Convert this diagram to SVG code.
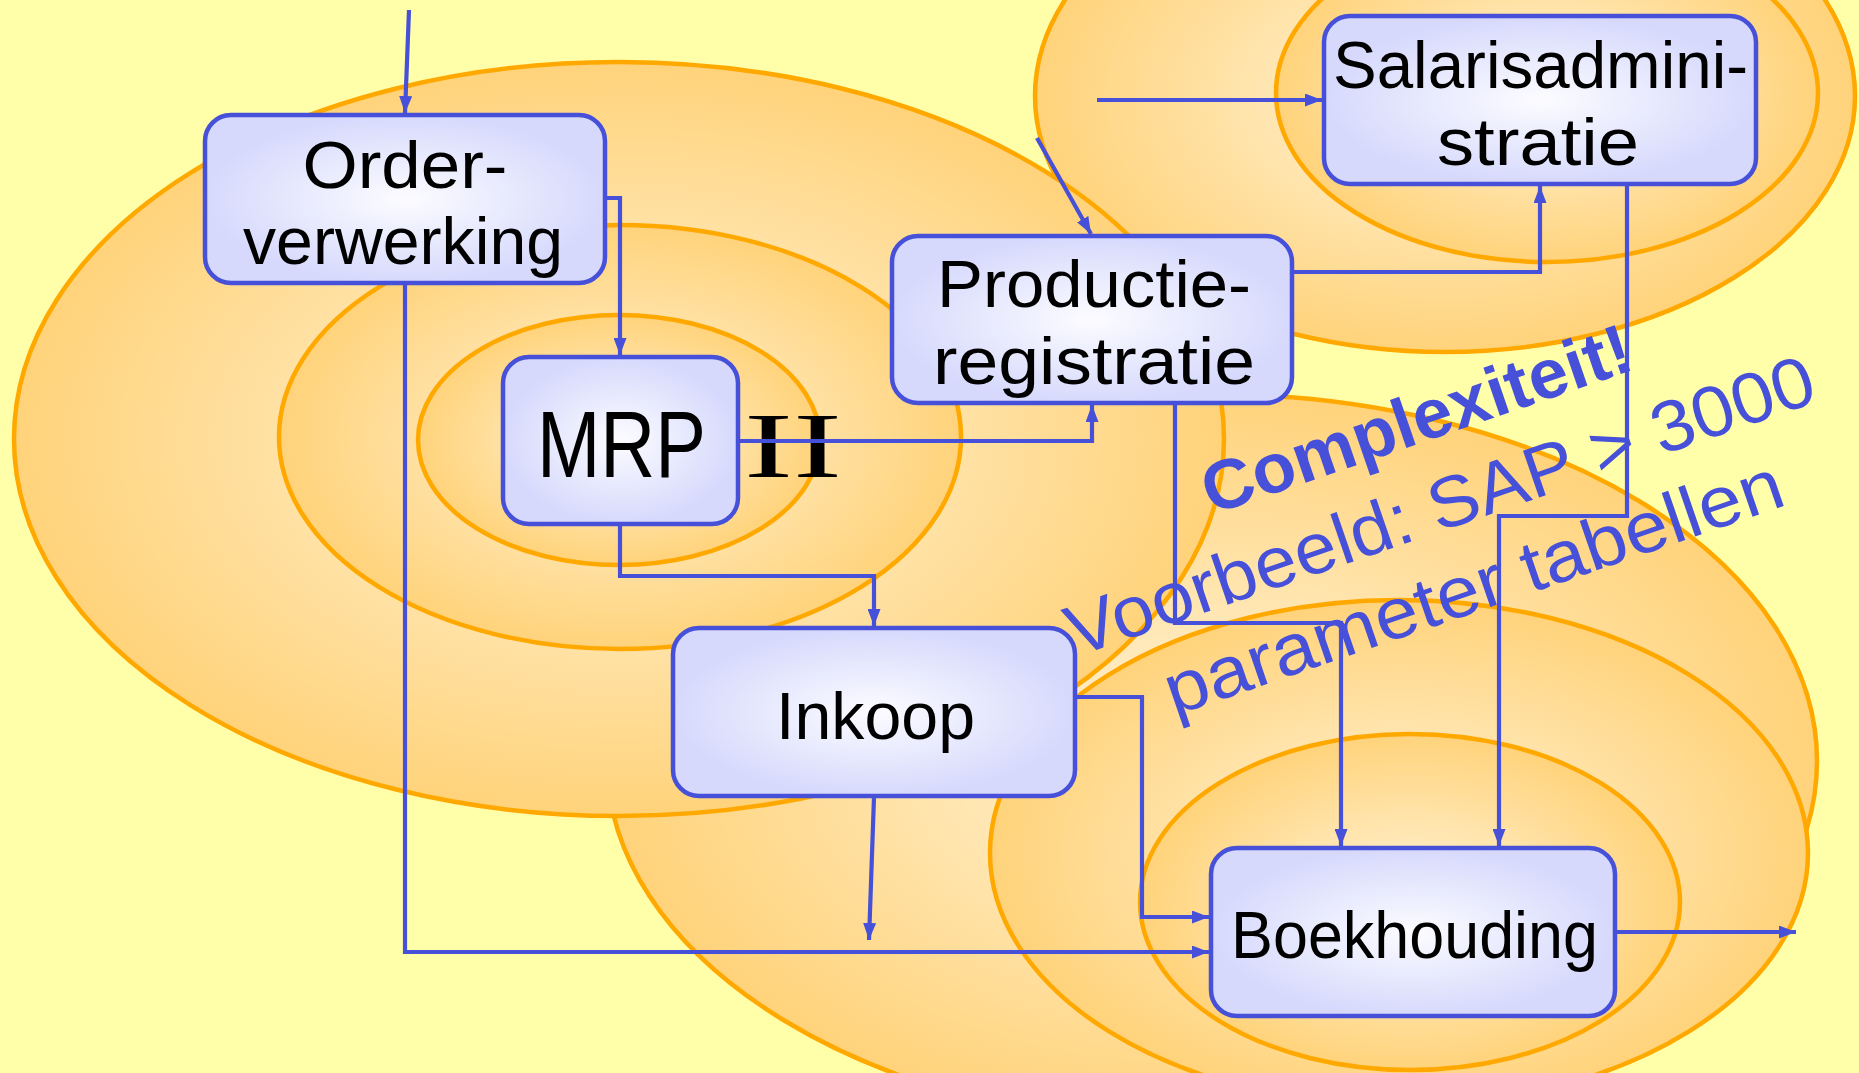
<svg xmlns="http://www.w3.org/2000/svg" width="1859" height="1073" viewBox="0 0 1859 1073">
<defs>
<radialGradient id="og" cx="0.5" cy="0.5" r="0.5">
<stop offset="0" stop-color="#FFF4DA"/>
<stop offset="1" stop-color="#FFD37B"/>
</radialGradient>
<radialGradient id="ng" cx="0.5" cy="0.5" r="0.5">
<stop offset="0" stop-color="#FCFCFF"/>
<stop offset="1" stop-color="#D6D9FC"/>
</radialGradient>
<marker id="ah" markerUnits="userSpaceOnUse" markerWidth="18" markerHeight="13" refX="17" refY="6.5" orient="auto">
<path d="M0,0 L17,6.5 L0,13 z" fill="#4650D8"/>
</marker>
<style>
.ell{fill:url(#og);stroke:#FFA800;stroke-width:4.5}
.box{fill:url(#ng);stroke:#4650D8;stroke-width:4.5}
.nt{font-family:"Liberation Sans",Arial,sans-serif;font-size:66px;fill:#000}
.con{fill:none;stroke:#4650D8;stroke-width:4.2;marker-end:url(#ah)}
.ann{font-family:"Liberation Sans",Arial,sans-serif;font-size:72px;fill:#4650D8}
</style>
</defs>
<rect width="1859" height="1073" fill="#FFFFAA"/>
<g id="sphere-salaris">
<ellipse class="ell" cx="1445" cy="96" rx="410" ry="256"/>
<ellipse class="ell" cx="1547" cy="93" rx="271" ry="169"/>
</g>
<g id="sphere-boekhouding">
<ellipse class="ell" cx="1212" cy="761" rx="605" ry="367"/>
<ellipse class="ell" cx="1399" cy="853" rx="409" ry="253"/>
<ellipse class="ell" cx="1410" cy="902" rx="270" ry="168"/>
</g>
<g id="sphere-mrp">
<ellipse class="ell" cx="619" cy="439" rx="605" ry="377"/>
<ellipse class="ell" cx="620" cy="437" rx="341" ry="212"/>
<ellipse class="ell" cx="619" cy="440" rx="201" ry="125"/>
</g>
<g id="node-order">
<rect class="box" x="205" y="115" width="400" height="168" rx="26"/>
<text class="nt"><tspan x="302.5" y="188" textLength="205" lengthAdjust="spacingAndGlyphs">Order-</tspan><tspan x="243" y="263.5" textLength="320" lengthAdjust="spacingAndGlyphs">verwerking</tspan></text>
</g>
<g id="node-mrp">
<rect class="box" x="503" y="357" width="235" height="167" rx="26"/>
<text class="nt" style="font-size:94px" y="477"><tspan x="537" textLength="169" lengthAdjust="spacingAndGlyphs">MRP</tspan><tspan x="744" textLength="98" lengthAdjust="spacingAndGlyphs" style="font-family:'Liberation Serif',serif">II</tspan></text>
</g>
<g id="node-productie">
<rect class="box" x="892" y="236" width="400" height="167" rx="26"/>
<text class="nt"><tspan x="937" y="307" textLength="314" lengthAdjust="spacingAndGlyphs">Productie-</tspan><tspan x="933" y="384" textLength="322" lengthAdjust="spacingAndGlyphs">registratie</tspan></text>
</g>
<g id="node-salaris">
<rect class="box" x="1324" y="16" width="432" height="168" rx="26"/>
<text class="nt"><tspan x="1333" y="88" textLength="415" lengthAdjust="spacingAndGlyphs">Salarisadmini-</tspan><tspan x="1437" y="165" textLength="202" lengthAdjust="spacingAndGlyphs">stratie</tspan></text>
</g>
<g id="node-inkoop">
<rect class="box" x="673" y="628" width="402" height="168" rx="26"/>
<text class="nt" x="776" y="739" textLength="199" lengthAdjust="spacingAndGlyphs">Inkoop</text>
</g>
<g id="node-boekhouding">
<rect class="box" x="1211" y="848" width="404" height="168" rx="26"/>
<text class="nt" x="1231" y="958" textLength="367" lengthAdjust="spacingAndGlyphs">Boekhouding</text>
</g>
<g id="connectors">
<path class="con" d="M409,10 L405,113"/>
<path class="con" d="M605,198 H620 V355"/>
<path class="con" d="M405,283 V952 H1209"/>
<path class="con" d="M620,524 V576 H874 V626"/>
<path class="con" d="M738,441 H1092 V405"/>
<path class="con" d="M1037,138 L1091,234"/>
<path class="con" d="M1097,100 H1322"/>
<path class="con" d="M1293,272 H1540 V186"/>
<path class="con" d="M1627,184 V516 H1499 V846"/>
<path class="con" d="M1175,403 V623 H1341 V846"/>
<path class="con" d="M1075,697 H1142 V917 H1209"/>
<path class="con" d="M874,797 L869,940"/>
<path class="con" d="M1616,932 H1796"/>
</g>
<g id="annotation">
<text class="ann" style="font-weight:bold;font-size:70px" x="1211.5" y="515" transform="rotate(-19 1211.5 515)" textLength="450" lengthAdjust="spacingAndGlyphs">Complexiteit!</text>
<text class="ann" x="1076" y="657" transform="rotate(-19 1076 657)" textLength="787" lengthAdjust="spacingAndGlyphs">Voorbeeld: SAP &gt; 3000</text>
<text class="ann" x="1174" y="716" transform="rotate(-19 1174 716)" textLength="650" lengthAdjust="spacingAndGlyphs">parameter tabellen</text>
</g>
</svg>
